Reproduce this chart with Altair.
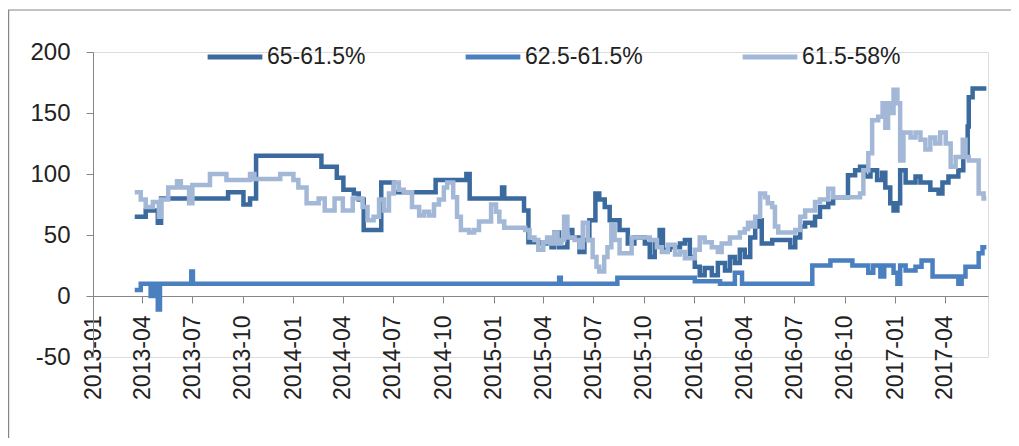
import altair as alt
import pandas as pd

SERIES = ["65-61.5%", "62.5-61.5%", "61.5-58%"]
COLORS = ["#3B6A9E", "#4A80C0", "#A3B8D7"]

dark_dates = ["2013-03-18","2013-04-07","2013-04-29","2013-05-05","2013-09-04","2013-10-02","2013-10-14","2013-10-25",
              "2014-02-21","2014-03-21","2014-04-02","2014-04-21","2014-04-30","2014-05-09","2014-06-10","2014-07-03",
              "2014-09-17","2014-11-12","2014-11-18","2015-01-16","2015-01-20","2015-02-25","2015-03-05","2015-03-25",
              "2015-04-16","2015-04-21","2015-04-30","2015-05-15","2015-05-24","2015-06-06","2015-06-15","2015-06-24",
              "2015-07-05","2015-07-12","2015-07-22","2015-07-31","2015-08-18","2015-09-02","2015-09-14","2015-10-03",
              "2015-10-12","2015-10-21","2015-10-30","2015-11-05","2015-11-17","2015-12-06","2015-12-15","2015-12-24",
              "2016-01-02","2016-01-11","2016-01-20","2016-02-02","2016-02-13","2016-02-26","2016-03-06","2016-03-15",
              "2016-03-24","2016-04-02","2016-04-12","2016-04-21","2016-04-26","2016-05-03","2016-05-22","2016-06-24",
              "2016-07-03","2016-07-12","2016-07-21","2016-08-03","2016-08-08","2016-08-17","2016-09-01","2016-09-10",
              "2016-10-07","2016-10-20","2016-10-29","2016-11-07","2016-11-17","2016-11-29","2016-12-08","2016-12-14",
              "2016-12-23","2016-12-29","2017-01-05","2017-01-10","2017-01-20","2017-02-07","2017-02-16","2017-03-06",
              "2017-03-21","2017-03-28","2017-04-08","2017-04-26","2017-05-05","2017-05-13","2017-05-15","2017-05-22",
              "2017-06-16"]
dark_values = [65,70,60,80,85,75,80,115,
               106,97,87,84,79,54,93,85,
               95,100,80,89,80,70,44,43,
               40,52,40,54,48,36,46,62,
               84,79,73,62,54,43,48,43,
               32,43,54,38,40,43,46,32,
               24,17,23,17,27,21,32,27,
               38,32,48,57,62,43,46,40,
               48,57,60,58,65,73,76,81,
               99,103,106,98,103,95,101,89,
               76,70,76,103,93,98,93,87,
               84,93,98,103,117,139,163,170,
               170]

mid_dates = ["2013-03-18","2013-03-29","2013-04-16","2013-04-21","2013-04-29","2013-05-03","2013-06-29","2013-07-02",
             "2015-04-30","2015-05-03","2015-08-14","2016-01-02","2016-02-17","2016-03-15","2016-03-28","2016-08-03",
             "2016-09-05","2016-10-15","2016-11-13","2016-11-22","2016-12-05","2016-12-12","2016-12-29","2017-01-05",
             "2017-01-10","2017-01-20","2017-02-07","2017-02-18","2017-03-10","2017-04-26","2017-05-02","2017-05-09",
             "2017-06-02","2017-06-09","2017-06-16"]
mid_values = [5,10,0,10,-11,10,20,10,
              15,10,15,12,10,19,10,25,
              29,25,19,25,16,25,19,10,
              25,21,24,29,16,10,16,24,
              35,40,40]

light_dates = ["2013-03-18","2013-03-29","2013-04-07","2013-04-20","2013-05-01","2013-05-05","2013-05-18","2013-06-03",
               "2013-06-10","2013-06-25","2013-07-01","2013-08-02","2013-09-01","2013-10-14","2013-10-22","2013-12-08",
               "2014-01-01","2014-01-10","2014-01-25","2014-02-16","2014-02-27","2014-03-17","2014-04-01","2014-04-19",
               "2014-05-07","2014-05-16","2014-05-27","2014-06-06","2014-06-15","2014-06-24","2014-07-03","2014-07-12",
               "2014-07-21","2014-08-05","2014-08-18","2014-08-27","2014-09-05","2014-09-14","2014-09-23","2014-10-02",
               "2014-10-08","2014-10-19","2014-10-26","2014-11-02","2014-11-17","2014-11-26","2014-12-05","2014-12-27",
               "2015-01-05","2015-01-11","2015-01-20","2015-02-27","2015-03-07","2015-03-16","2015-03-23","2015-04-01",
               "2015-04-08","2015-04-14","2015-04-21","2015-04-27","2015-05-04","2015-05-09","2015-05-15","2015-05-28",
               "2015-06-06","2015-06-12","2015-06-21","2015-06-30","2015-07-07","2015-07-12","2015-07-21","2015-07-27",
               "2015-08-03","2015-08-09","2015-08-18","2015-09-09","2015-10-12","2015-10-25","2015-11-03","2015-11-14",
               "2015-11-27","2015-12-06","2015-12-15","2016-01-02","2016-01-11","2016-01-20","2016-02-02","2016-02-13",
               "2016-02-20","2016-03-06","2016-03-24","2016-04-02","2016-04-08","2016-04-15","2016-04-21","2016-04-30",
               "2016-05-09","2016-05-14","2016-05-22","2016-05-27","2016-06-02","2016-07-03","2016-07-12","2016-07-21",
               "2016-08-08","2016-08-17","2016-09-01","2016-09-10","2016-10-29","2016-11-04","2016-11-13","2016-11-20",
               "2016-12-01","2016-12-09","2016-12-14","2016-12-19","2016-12-23","2016-12-29","2017-01-05","2017-01-10",
               "2017-01-16","2017-01-29","2017-02-07","2017-02-16","2017-02-25","2017-03-06","2017-03-15","2017-03-24",
               "2017-04-03","2017-04-12","2017-04-21","2017-05-04","2017-05-09","2017-05-15","2017-06-02","2017-06-11",
               "2017-06-16"]
light_values = [85,79,73,77,65,79,89,94,
                89,76,91,100,95,100,96,100,
                95,89,76,80,70,80,70,80,
                73,62,65,79,70,84,93,87,
                85,73,66,69,66,75,79,89,
                93,81,65,54,52,54,61,75,
                69,61,56,54,48,46,38,44,
                48,43,52,43,46,65,48,46,
                40,60,46,32,24,20,32,40,
                58,46,35,48,46,40,36,42,
                34,36,31,38,48,44,40,36,
                43,48,52,55,60,57,65,84,
                81,76,73,57,52,54,65,70,
                77,79,88,81,84,103,117,144,
                147,158,138,158,150,169,158,111,
                134,130,134,128,120,130,125,134,
                125,106,114,128,114,111,84,80,
                80]

x_ticks = ["2013-01","2013-04","2013-07","2013-10","2014-01","2014-04","2014-07","2014-10",
           "2015-01","2015-04","2015-07","2015-10","2016-01","2016-04","2016-07","2016-10",
           "2017-01","2017-04"]
y_ticks = [-50, 0, 50, 100, 150, 200]

frames = []
for name, ds, vs in zip(SERIES, [dark_dates, mid_dates, light_dates], [dark_values, mid_values, light_values]):
    frames.append(pd.DataFrame({"date": ds, "value": vs, "series": name}))
df = pd.concat(frames, ignore_index=True)


def dt(s):
    parts = s.split("-")
    d = int(parts[2]) if len(parts) == 3 else 1
    return alt.DateTime(year=int(parts[0]), month=int(parts[1]), date=d, utc=True)


FONT = "Liberation Sans"
GRAY = "#868686"
TXT = "#222222"

x_enc = alt.X(
    "date:T",
    scale=alt.Scale(type="utc", domain=[dt("2013-01"), dt("2017-06-19")]),
    axis=alt.Axis(
        values=[dt(t) for t in x_ticks], labelExpr="utcFormat(datum.value, '%Y-%m')",
        labelAngle=-90, labelFontSize=23, labelFont=FONT, labelColor=TXT,
        labelPadding=12, tickSize=7, tickColor=GRAY, domainColor=GRAY,
        grid=False, title=None, offset=-61, labelOverlap=False,
    ),
)
y_enc = alt.Y(
    "value:Q",
    scale=alt.Scale(domain=[-50, 200], nice=False, zero=False),
    axis=alt.Axis(
        values=y_ticks, labelExpr="'' + datum.value",
        labelFontSize=24, labelFont=FONT, labelColor=TXT,
        labelPadding=16, tickSize=7, tickColor=GRAY, domainColor=GRAY,
        grid=False, title=None,
    ),
)
color_enc = alt.Color(
    "series:N",
    scale=alt.Scale(domain=SERIES, range=COLORS),
    legend=alt.Legend(
        orient="none", legendX=112, legendY=-25, direction="horizontal", title=None,
        symbolType="stroke", symbolSize=3000, symbolStrokeWidth=5,
        labelFontSize=23, labelFont=FONT, labelColor=TXT, labelOffset=2,
        columnPadding=89, labelLimit=300,
    ),
)

layers = []
for name in SERIES:
    layers.append(
        alt.Chart(df).transform_filter(alt.datum.series == name)
        .mark_line(interpolate="step-after", strokeWidth=4.5)
        .encode(x=x_enc, y=y_enc, color=color_enc)
    )

frame = alt.Chart(pd.DataFrame({"a": [0]})).mark_rect(
    fill=None, stroke=GRAY, strokeWidth=1.2
).encode(x=alt.value(-84.4), x2=alt.value(1100), y=alt.value(-42), y2=alt.value(600))

chart = alt.layer(frame, *layers).properties(
    width=895, height=305,
    autosize=alt.AutoSizeParams(type="none"),
    padding={"left": 85, "top": 44, "right": 23, "bottom": 81},
).configure_view(stroke=None).configure(background="white")

chart.save("out.html", embed_options={"renderer": "svg", "actions": False})
